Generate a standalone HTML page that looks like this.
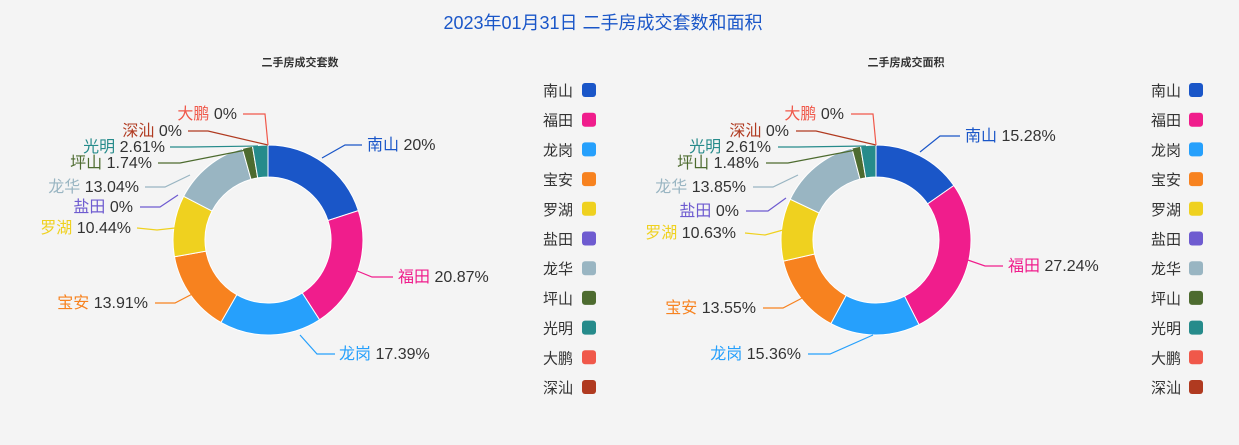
<!DOCTYPE html>
<html><head><meta charset="utf-8"><style>
body{margin:0;background:#f4f4f4;}
svg{display:block;font-family:"Liberation Sans","Noto Sans CJK SC",sans-serif;}
</style></head><body>
<svg id="s" width="1239" height="445" xmlns="http://www.w3.org/2000/svg">
<rect width="1239" height="445" fill="#f4f4f4"/>
<text x="603" y="29" text-anchor="middle" font-size="18" fill="#1a56c8">2023年01月31日 二手房成交套数和面积</text>
<text x="300" y="66" text-anchor="middle" font-size="11" font-weight="bold" fill="#333">二手房成交套数</text>
<text x="906" y="66" text-anchor="middle" font-size="11" font-weight="bold" fill="#333">二手房成交面积</text>
<g id="g"></g>
</svg>
<script>
var C=["#1a56c8","#f01d8c","#26a0fc","#f7821f","#efd11f","#6e5bd0","#99b5c2","#4d6b2f","#268b8b","#f0584a","#b03a20"];
var N=["南山","福田","龙岗","宝安","罗湖","盐田","龙华","坪山","光明","大鹏","深汕"];
var g=document.getElementById("g"),h="";
function donut(cx,cy,vals){var R=95,r=63,a=0;
 vals.forEach(function(v,i){if(!v)return;var a2=a+v/100*2*Math.PI;
  function p(rad,ang){return [cx+rad*Math.sin(ang),cy-rad*Math.cos(ang)];}
  var l=(a2-a)>Math.PI?1:0,A=p(R,a),B=p(R,a2),Cc=p(r,a2),D=p(r,a);
  h+='<path d="M'+A+' A'+R+' '+R+' 0 '+l+' 1 '+B+' L'+Cc+' A'+r+' '+r+' 0 '+l+' 0 '+D+'Z" fill="'+C[i]+'" stroke="#fff" stroke-width="1"/>';
  a=a2;});}
donut(268,240,[20,20.87,17.39,13.91,10.44,0,13.04,1.74,2.61,0,0]);
donut(876,240,[15.28,27.24,15.36,13.55,10.63,0,13.85,1.48,2.61,0,0]);
function lab(i,name,val,tx,ty,pts,anchorEnd){
 h+='<polyline points="'+pts+'" fill="none" stroke="'+C[i]+'" stroke-width="1.2"/>';
 h+='<text x="'+tx+'" y="'+(ty+5)+'" font-size="16" text-anchor="'+(anchorEnd?'end':'start')+'"><tspan fill="'+C[i]+'">'+name+'</tspan><tspan fill="#333"> '+val+'</tspan></text>';}
lab(0,"南山","20%",367,145,"322,158 345,145 362,145");
lab(1,"福田","20.87%",398,277,"350,268 372,277 393,277");
lab(2,"龙岗","17.39%",339,354,"300,335 317,354 335,354");
lab(3,"宝安","13.91%",148,303,"200,290 175,303 155,303",1);
lab(4,"罗湖","10.44%",131,228,"175,228 157,230 137,228",1);
lab(5,"盐田","0%",133,207,"178,195 160,207 140,207",1);
lab(6,"龙华","13.04%",139,187,"190,175 165,187 145,187",1);
lab(7,"坪山","1.74%",152,163,"246,150 180,163 158,163",1);
lab(8,"光明","2.61%",165,147,"258,146 190,147 170,147",1);
lab(10,"深汕","0%",182,131,"268,145 208,131 188,131",1);
lab(9,"大鹏","0%",237,114,"268,145 265,114 243,114",1);
lab(0,"南山","15.28%",965,136,"920,152 940,136 960,136");
lab(1,"福田","27.24%",1008,266,"962,258 985,266 1003,266");
lab(2,"龙岗","15.36%",801,354,"873,335 830,354 808,354",1);
lab(3,"宝安","13.55%",756,308,"808,295 783,308 763,308",1);
lab(4,"罗湖","10.63%",736,233,"783,230 765,235 745,233",1);
lab(5,"盐田","0%",739,211,"786,198 768,211 746,211",1);
lab(6,"龙华","13.85%",746,187,"798,175 773,187 753,187",1);
lab(7,"坪山","1.48%",759,163,"856,150 788,163 766,163",1);
lab(8,"光明","2.61%",771,147,"866,146 798,147 778,147",1);
lab(10,"深汕","0%",789,131,"876,145 816,131 796,131",1);
lab(9,"大鹏","0%",844,114,"876,145 873,114 851,114",1);
N.forEach(function(n,i){var y=90+i*29.7;
 [[543,582],[1151,1189]].forEach(function(p){
  h+='<text x="'+p[0]+'" y="'+(y+6)+'" font-size="15" fill="#333">'+n+'</text>';
  h+='<rect x="'+p[1]+'" y="'+(y-7)+'" width="14" height="14" rx="3" fill="'+C[i]+'"/>';});});
g.innerHTML=h;
</script>
</body></html>
